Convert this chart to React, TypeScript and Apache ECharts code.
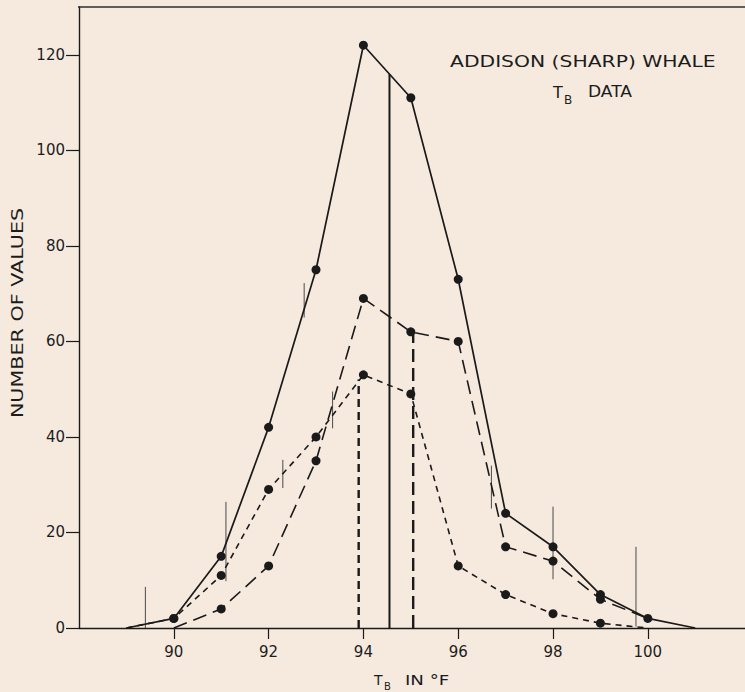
import React, { useEffect, useRef } from "react";
import * as echarts from "echarts";

// ---- data ----
const xTicks = [90, 92, 94, 96, 98, 100];
const yTicks = [0, 20, 40, 60, 80, 100, 120];

// all values (solid line)
const totalX = [89, 90, 91, 92, 93, 94, 95, 96, 97, 98, 99, 100, 101];
const totalY = [0, 2, 15, 42, 75, 122, 111, 73, 24, 17, 7, 2, 0];

// long-dashed group
const groupAX = [90, 91, 92, 93, 94, 95, 96, 97, 98, 99, 100];
const groupAY = [0, 4, 13, 35, 69, 62, 60, 17, 14, 6, 2];

// short-dashed group
const groupBX = [89, 90, 91, 92, 93, 94, 95, 96, 97, 98, 99, 100];
const groupBY = [0, 2, 11, 29, 40, 53, 49, 13, 7, 3, 1, 0];

// medians: [x, top]
const totalMedian = [94.55, 116];
const groupAMedian = [95.05, 62];
const groupBMedian = [93.9, 52];

// thin vertical range marks: [x, low, high]
const rangeMarks = [
  [89.4, 0, 8.6],
  [91.1, 9.8, 26.4],
  [92.3, 29.3, 35.2],
  [92.75, 65, 72.2],
  [93.35, 41.8, 49.5],
  [96.7, 25, 34],
  [98.0, 10.2, 25.4],
  [99.75, 0.3, 17],
];

const INK = "#1a1a1a";
const TXT = "#1c1c1c";
const FONT = "DejaVu Sans";

function pts(xs: number[], ys: number[]) {
  return xs.map((x, i) => {
    const edge = i === 0 || i === xs.length - 1;
    return edge ? { value: [x, ys[i]], symbol: "none" } : { value: [x, ys[i]] };
  });
}

function vline(style: any) {
  return (params: any, api: any) => {
    const x = api.value(0);
    const p0 = api.coord([x, api.value(1)]);
    const p1 = api.coord([x, api.value(2)]);
    return {
      type: "line",
      shape: { x1: p0[0], y1: p0[1], x2: p1[0], y2: p1[1] },
      style,
    };
  };
}

function txt(text: string, x: number, y: number, size: number, extra: any = {}) {
  return {
    type: "text",
    x,
    y,
    ...extra,
    style: {
      text,
      fill: TXT,
      font: `${size}px "${FONT}"`,
      align: extra.align || "left",
      verticalAlign: "middle",
    },
  };
}

export default function App() {
  const ref = useRef<HTMLDivElement>(null);
  useEffect(() => {
    if (!ref.current) return;
    const chart = echarts.init(ref.current, undefined, { renderer: "svg" });
    const lineBase = {
      type: "line",
      symbol: "circle",
      symbolSize: 9,
      showAllSymbol: true,
      itemStyle: { color: INK },
      z: 3,
    };
    chart.setOption({
      animation: false,
      backgroundColor: "#f6eadf",
      grid: { left: 79, right: 0, top: 7, bottom: 64 },
      xAxis: {
        type: "value",
        min: 88,
        max: 102.05,
        interval: 2,
        splitLine: { show: false },
        axisLine: { show: true, onZero: false, lineStyle: { color: INK, width: 1.4 } },
        axisTick: {
          show: true,
          length: 11,
          customValues: xTicks,
          lineStyle: { color: INK, width: 1.2 },
        },
        axisLabel: {
          customValues: xTicks,
          margin: 16,
          color: TXT,
          fontFamily: FONT,
          fontSize: 15,
        },
      },
      yAxis: {
        type: "value",
        min: 0,
        max: 130,
        interval: 20,
        splitLine: { show: false },
        axisLine: { show: true, onZero: false, lineStyle: { color: INK, width: 1.4 } },
        axisTick: {
          show: true,
          length: 13,
          customValues: yTicks,
          lineStyle: { color: INK, width: 1.2 },
        },
        axisLabel: {
          customValues: yTicks,
          margin: 14,
          color: TXT,
          fontFamily: FONT,
          fontSize: 15,
        },
      },
      series: [
        {
          ...lineBase,
          name: "All values",
          data: pts(totalX, totalY),
          lineStyle: { color: INK, width: 1.7, type: "solid" },
        },
        {
          ...lineBase,
          name: "Group A",
          data: pts(groupAX, groupAY),
          lineStyle: { color: INK, width: 1.6, type: [14, 7] },
        },
        {
          ...lineBase,
          name: "Group B",
          data: pts(groupBX, groupBY),
          lineStyle: { color: INK, width: 1.6, type: [6, 5] },
        },
        {
          type: "custom",
          name: "Ranges",
          data: rangeMarks,
          encode: { x: 0, y: [1, 2] },
          renderItem: vline({ stroke: "#4a4a4a", lineWidth: 1 }),
          z: 2,
        },
        {
          type: "custom",
          name: "Median all",
          data: [[totalMedian[0], 0, totalMedian[1]]],
          encode: { x: 0, y: [1, 2] },
          renderItem: vline({ stroke: INK, lineWidth: 2 }),
          z: 2,
        },
        {
          type: "custom",
          name: "Median A",
          data: [[groupAMedian[0], 0, groupAMedian[1]]],
          encode: { x: 0, y: [1, 2] },
          renderItem: vline({ stroke: INK, lineWidth: 2.4, lineDash: [13, 6] }),
          z: 2,
        },
        {
          type: "custom",
          name: "Median B",
          data: [[groupBMedian[0], 0, groupBMedian[1]]],
          encode: { x: 0, y: [1, 2] },
          renderItem: vline({ stroke: INK, lineWidth: 2.4, lineDash: [8, 5] }),
          z: 2,
        },
      ],
      graphic: [
        {
          type: "rect",
          z: 100,
          shape: { x: 78, y: 6.3, width: 667, height: 1.4 },
          style: { fill: "#2e2e2e" },
        },
        txt("ADDISON (SHARP) WHALE", 450, 61, 16, { scaleX: 1.27 }),
        txt("T", 553, 92, 16),
        txt("B", 564, 100, 12),
        txt("DATA", 588, 92, 16, { scaleX: 1.07 }),
        txt("NUMBER OF VALUES", 18, 313, 15, {
          rotation: Math.PI / 2,
          scaleX: 1.38,
          align: "center",
        }),
        txt("T", 374, 680, 14),
        txt("B", 384, 686, 10),
        txt("IN °F", 405, 680, 14, { scaleX: 1.3 }),
      ],
    });
    return () => chart.dispose();
  }, []);
  return (
    <div
      ref={ref}
      style={{ position: "absolute", left: 0, top: 0, width: 745, height: 692 }}
    />
  );
}
